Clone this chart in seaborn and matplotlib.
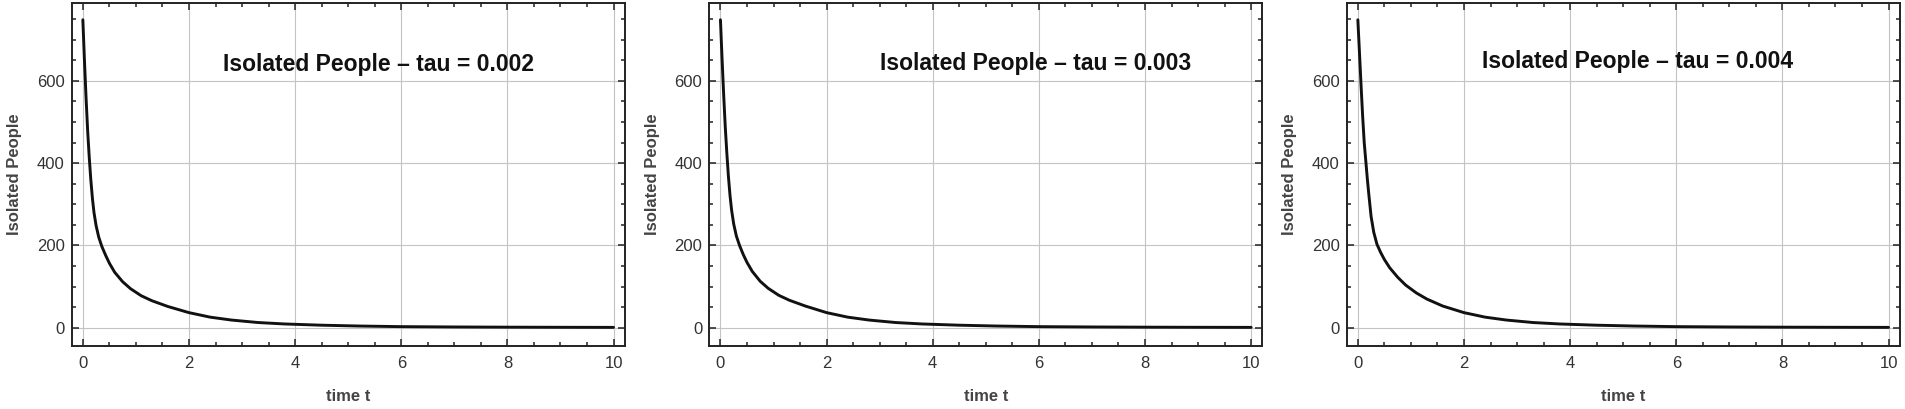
import warnings
warnings.filterwarnings("ignore")

import matplotlib
matplotlib.use("Agg")
import matplotlib.pyplot as plt
from matplotlib.ticker import MultipleLocator
import seaborn as sns
import pandas as pd

# ── Data (time t, isolated people) ───────────────────────────────────────
TIME = [0.0, 0.03, 0.06, 0.09, 0.12, 0.15, 0.18, 0.21, 0.25, 0.3, 0.36, 0.43,
        0.5, 0.6, 0.75, 0.9, 1.1, 1.3, 1.6, 2.0, 2.4, 2.8, 3.3, 3.8, 4.5, 5.2,
        6.0, 7.0, 8.0, 9.0, 10.0]

ISO_TAU_002 = [748, 650, 560, 480, 415, 360, 315, 280, 248, 220, 197, 176,
               157, 135, 112, 95, 78, 66, 52, 37, 26, 19, 13, 9.5, 6.5, 4.5,
               3, 2.2, 1.7, 1.4, 1.2]
ISO_TAU_003 = [748, 655, 568, 490, 425, 368, 322, 286, 252, 223, 200, 178,
               159, 137, 113, 96, 79, 67, 53, 37, 26, 19, 13, 9.5, 6.5, 4.5,
               3, 2.2, 1.7, 1.4, 1.2]
ISO_TAU_004 = [748, 670, 590, 515, 450, 405, 360, 320, 270, 232, 203, 183,
               166, 146, 123, 104, 85, 70, 53, 37, 26, 19, 13, 9.5, 6.5, 4.5,
               3, 2.2, 1.7, 1.4, 1.2]

TAUS   = ["0.002", "0.003", "0.004"]
SERIES = [ISO_TAU_002, ISO_TAU_003, ISO_TAU_004]
TITLE_X = [5.58, 5.94, 5.27]
TITLE_Y = [639, 643, 646]

sns.set_theme(style="ticks")
plt.rcParams["font.family"] = ["Liberation Sans", "DejaVu Sans"]
plt.rcParams["axes.unicode_minus"] = False

fig = plt.figure(figsize=(19.05, 4.09), dpi=100)

# axes frames, in pixels of the 1905x409 figure
LEFTS = [71.7, 709.3, 1346.7]
W, H = 553 / 1905, 342.7 / 409
BOTTOM = (409 - 346) / 409

for i, (tau, vals) in enumerate(zip(TAUS, SERIES)):
    ax = fig.add_axes([LEFTS[i] / 1905, BOTTOM, W, H])
    df = pd.DataFrame({"time t": TIME, "Isolated People": vals})
    sns.lineplot(data=df, x="time t", y="Isolated People", ax=ax,
                 color="#111111", linewidth=2.1, zorder=3)

    ax.set_xlim(-0.21, 10.21)
    ax.set_ylim(-44, 788)
    ax.xaxis.set_major_locator(MultipleLocator(2))
    ax.xaxis.set_minor_locator(MultipleLocator(0.5))
    ax.yaxis.set_major_locator(MultipleLocator(200))
    ax.yaxis.set_minor_locator(MultipleLocator(50))

    ax.grid(True, which="major", color="#c4c4c4", linewidth=0.8, zorder=0)
    for sp in ax.spines.values():
        sp.set_visible(True)
        sp.set_linewidth(1.4)
        sp.set_color("#222222")

    ax.tick_params(which="both", direction="in", top=True, right=True,
                   color="#222222", width=1.1)
    ax.tick_params(which="major", length=4.8)
    ax.tick_params(which="minor", length=3.0)
    ax.tick_params(axis="x", which="major", pad=7, labelsize=12,
                   labelcolor="#333333")
    ax.tick_params(axis="y", which="major", pad=5, labelsize=12,
                   labelcolor="#333333")

    ax.set_xlabel("time t", fontsize=12, fontweight="bold", color="#444444")
    ax.set_ylabel("Isolated People", fontsize=12, fontweight="bold",
                  color="#444444")
    ax.xaxis.set_label_coords(0.5, -0.125)
    ax.yaxis.set_label_coords(-0.09, 0.5)

    ax.text(TITLE_X[i], TITLE_Y[i], f"Isolated People \u2013 tau = {tau}",
            ha="center", va="center", fontsize=16.5, fontweight="bold",
            color="#111111", zorder=4)

plt.savefig("out.png", dpi=100)
plt.close()
